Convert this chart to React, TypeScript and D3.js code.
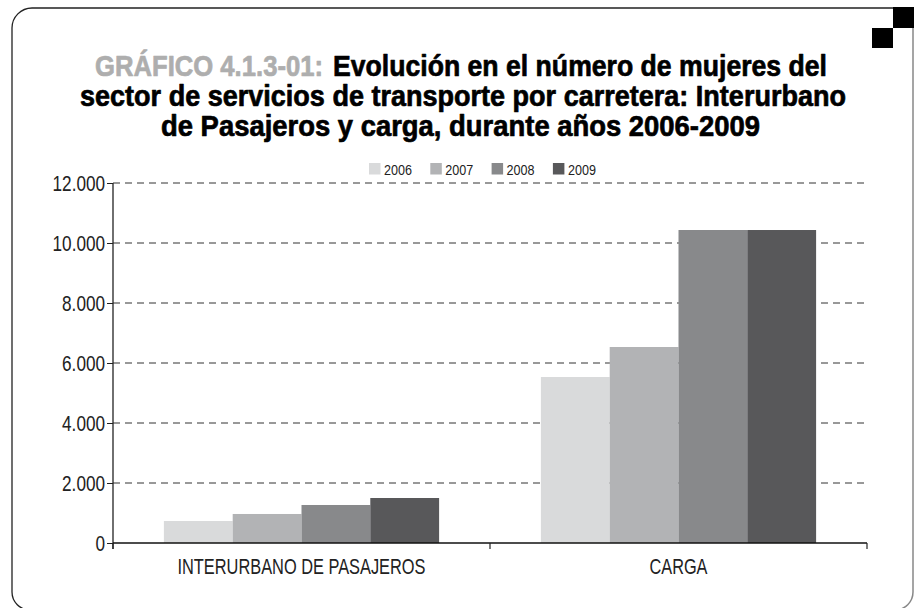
import React, { useRef, useEffect } from 'react';
import * as d3 from 'd3';

const categories = ['INTERURBANO DE PASAJEROS', 'CARGA'];
const years = ['2006', '2007', '2008', '2009'];
const interurbano = [733, 967, 1267, 1500];
const carga = [5533, 6533, 10433, 10433];
const yTicks = [0, 2000, 4000, 6000, 8000, 10000, 12000];
const colors = ['#d9dadb', '#b2b3b5', '#88898b', '#58585a'];

const W = 917, H = 608;
const FONT = '"Liberation Sans", Arial, sans-serif';
const NARROW = 0.78;

export default function App() {
  const ref = useRef<SVGSVGElement>(null);

  useEffect(() => {
    const svg = d3.select(ref.current);
    svg.selectAll('*').remove();

    const series = [interurbano, carga];
    const margin = { left: 113, right: 50, top: 183, bottom: 65 };

    const x0 = d3.scaleBand()
      .domain(categories)
      .range([margin.left, W - margin.right])
      .paddingInner(0.27)
      .paddingOuter(0.135);
    const x1 = d3.scaleBand().domain(years).range([0, x0.bandwidth()]);
    const y = d3.scaleLinear().domain([0, 12000]).range([H - margin.bottom, margin.top]);

    const es = d3.formatLocale({ decimal: ',', thousands: '.', grouping: [3], currency: ['', ''] });
    const fmt = es.format(',d');

    // frame
    svg.append('path')
      .attr('d', 'M12,28 A20,20 0 0 1 32,8 L893,8 M12,28 L12,592 A18,18 0 0 0 30,610 L895,610')
      .attr('fill', 'none').attr('stroke', '#222').attr('stroke-width', 1.3);
    svg.append('path')
      .attr('d', 'M913,28 L913,592 A18,18 0 0 1 895,610')
      .attr('fill', 'none').attr('stroke', '#888').attr('stroke-width', 1.5);
    svg.append('rect').attr('x', 893).attr('y', 7).attr('width', 21).attr('height', 21).attr('fill', '#000');
    svg.append('rect').attr('x', 872).attr('y', 28).attr('width', 21).attr('height', 20).attr('fill', '#000');

    // title
    const title = svg.append('g')
      .attr('font-family', FONT)
      .attr('font-weight', 700)
      .attr('font-size', 30)
      .attr('stroke-width', 0.7)
      .attr('stroke-linejoin', 'round');
    title.append('text').attr('x', 95).attr('y', 76).attr('fill', '#aeaeae').attr('stroke', '#aeaeae')
      .attr('textLength', 228).attr('lengthAdjust', 'spacingAndGlyphs')
      .text('GRÁFICO 4.1.3-01:');
    title.append('text').attr('x', 333).attr('y', 76).attr('fill', '#000').attr('stroke', '#000')
      .attr('textLength', 494).attr('lengthAdjust', 'spacingAndGlyphs')
      .text('Evolución en el número de mujeres del');
    title.append('text').attr('x', 80).attr('y', 106).attr('fill', '#000').attr('stroke', '#000')
      .attr('textLength', 766).attr('lengthAdjust', 'spacingAndGlyphs')
      .text('sector de servicios de transporte por carretera: Interurbano');
    title.append('text').attr('x', 161).attr('y', 136).attr('fill', '#000').attr('stroke', '#000')
      .attr('textLength', 599).attr('lengthAdjust', 'spacingAndGlyphs')
      .text('de Pasajeros y carga, durante años 2006-2009');

    // legend
    const legend = svg.append('g').attr('font-family', FONT).attr('font-size', 15).attr('fill', '#222');
    years.forEach((yr, i) => {
      const gx = 369 + i * 61.3;
      legend.append('rect').attr('x', gx).attr('y', 163).attr('width', 11.5).attr('height', 11.5).attr('fill', colors[i]);
      legend.append('text').attr('x', gx + 15).attr('y', 174.5)
        .attr('textLength', 28).attr('lengthAdjust', 'spacingAndGlyphs').text(yr);
    });

    // grid
    svg.append('g').selectAll('line')
      .data(yTicks.filter(t => t > 0))
      .join('line')
      .attr('x1', margin.left).attr('x2', W - margin.right)
      .attr('y1', d => y(d)).attr('y2', d => y(d))
      .attr('stroke', '#333').attr('stroke-width', 1)
      .attr('stroke-dasharray', '7,5');

    // bars
    svg.append('g').selectAll('g')
      .data(categories)
      .join('g')
      .attr('transform', c => `translate(${x0(c)},0)`)
      .selectAll('rect')
      .data((c, ci) => series[ci].map((v, i) => ({ year: years[i], v, i })))
      .join('rect')
      .attr('x', d => x1(d.year)!)
      .attr('y', d => y(d.v))
      .attr('width', x1.bandwidth())
      .attr('height', d => y(0) - y(d.v))
      .attr('fill', d => colors[d.i]);

    // y axis
    const yAxis = svg.append('g')
      .attr('transform', `translate(${margin.left},0)`)
      .call(d3.axisLeft(y).tickValues(yTicks).tickFormat(d => fmt(d as number)).tickSize(6).tickPadding(3));
    yAxis.select('.domain').attr('d', `M0,${y(12000)}V${y(0) + 6}`).attr('stroke', '#222').attr('stroke-width', 1.3);
    yAxis.selectAll('.tick line').attr('stroke', '#222');
    yAxis.selectAll('.tick text')
      .attr('font-family', FONT).attr('font-size', 22).attr('fill', '#222')
      .attr('x', -8 / NARROW)
      .attr('transform', `scale(${NARROW},1)`);

    // x axis
    const xAxis = svg.append('g').attr('transform', `translate(0,${y(0)})`);
    xAxis.append('line').attr('x1', margin.left).attr('x2', W - margin.right)
      .attr('stroke', '#111').attr('stroke-width', 1.5);
    const edges = [margin.left, (x0(categories[0])! + x0.bandwidth() + x0(categories[1])!) / 2, W - margin.right];
    xAxis.selectAll('.edge').data(edges).join('line')
      .attr('x1', d => d).attr('x2', d => d).attr('y1', 0).attr('y2', 6)
      .attr('stroke', '#222').attr('stroke-width', 1.2);
    xAxis.selectAll('.lab').data(categories).join('text')
      .attr('x', c => x0(c)! + x0.bandwidth() / 2)
      .attr('y', 31)
      .attr('text-anchor', 'middle')
      .attr('font-family', FONT).attr('font-size', 22).attr('fill', '#222')
      .attr('textLength', (c, i) => (i === 0 ? 248 : 58))
      .attr('lengthAdjust', 'spacingAndGlyphs')
      .text(c => c);
  }, []);

  return (
    <svg ref={ref} width={W} height={H} viewBox={`0 0 ${W} ${H}`}
      style={{ position: 'absolute', left: 0, top: 0, background: '#fff' }} />
  );
}
